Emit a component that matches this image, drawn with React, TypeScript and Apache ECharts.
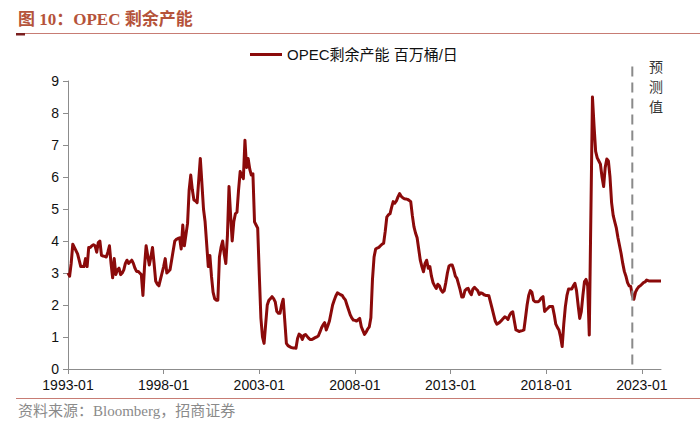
import React, { useEffect, useRef } from "react";
import * as echarts from "echarts";

// OPEC spare capacity, million barrels per day, monthly from 1993-01 to 2024-01
const y1993 = [3.0, 2.9, 3.3, 3.9, 3.8, 3.7, 3.6, 3.4, 3.2, 3.2, 3.2, 3.45];
const y1994 = [3.2, 3.8, 3.8, 3.85, 3.88, 3.85, 3.65, 3.95, 4.0, 3.55, 3.53, 3.52];
const y1995 = [3.5, 3.65, 3.85, 3.3, 2.85, 3.45, 2.95, 3.1, 3.15, 2.95, 3.0, 3.1];
const y1996 = [3.3, 3.4, 3.3, 3.35, 3.4, 3.3, 3.15, 3.05, 3.05, 3.0, 2.95, 2.3];
const y1997 = [3.2, 3.85, 3.55, 3.25, 3.5, 3.8, 3.3, 2.75, 2.65, 2.6, 2.8, 3.0];
const y1998 = [3.2, 3.45, 3.0, 3.05, 3.1, 3.4, 3.7, 4.0, 4.05, 4.08, 4.1, 3.75];
const y1999 = [4.5, 3.85, 4.2, 4.55, 5.6, 6.06, 5.6, 5.28, 5.25, 5.2, 5.9, 6.58];
const y2000 = [5.8, 5.0, 4.6, 3.9, 3.2, 3.55, 2.9, 2.4, 2.2, 2.15, 2.15, 3.5];
const y2001 = [3.8, 4.0, 3.6, 3.3, 4.15, 5.7, 4.8, 4.0, 4.6, 4.85, 4.9, 5.6];
const y2002 = [6.17, 6.05, 5.95, 7.15, 6.3, 6.58, 6.25, 6.06, 6.1, 4.6, 4.5, 4.4];
const y2003 = [2.95, 1.6, 1.0, 0.8, 1.4, 2.0, 2.15, 2.2, 2.26, 2.2, 2.1, 1.8];
const y2004 = [1.74, 1.74, 2.0, 2.18, 1.5, 0.8, 0.73, 0.7, 0.67, 0.66, 0.66, 0.65];
const y2005 = [0.95, 1.09, 1.05, 0.92, 1.05, 1.08, 1.02, 0.96, 0.92, 0.92, 0.95, 0.98];
const y2006 = [1.0, 1.03, 1.15, 1.28, 1.38, 1.45, 1.22, 1.35, 1.5, 1.75, 2.0, 2.15];
const y2007 = [2.28, 2.38, 2.35, 2.32, 2.3, 2.22, 2.16, 2.0, 1.85, 1.7, 1.6, 1.53];
const y2008 = [1.52, 1.5, 1.54, 1.58, 1.32, 1.2, 1.08, 1.15, 1.25, 1.32, 1.6, 2.8];
const y2009 = [3.5, 3.75, 3.78, 3.8, 3.85, 3.9, 3.93, 4.3, 4.75, 4.82, 4.85, 5.05];
const y2010 = [5.23, 5.18, 5.25, 5.38, 5.48, 5.4, 5.35, 5.32, 5.31, 5.3, 5.27, 5.23];
const y2011 = [4.8, 4.45, 4.25, 4.1, 3.75, 3.4, 3.2, 3.04, 3.3, 3.4, 3.15, 3.2];
const y2012 = [2.9, 2.7, 2.6, 2.52, 2.65, 2.6, 2.47, 2.4, 2.45, 2.7, 3.0, 3.22];
const y2013 = [3.25, 3.25, 3.1, 2.9, 2.83, 2.65, 2.47, 2.25, 2.25, 2.45, 2.5, 2.52];
const y2014 = [2.4, 2.32, 2.5, 2.55, 2.5, 2.45, 2.33, 2.38, 2.36, 2.32, 2.3, 2.3];
const y2015 = [2.29, 2.1, 1.9, 1.7, 1.5, 1.4, 1.43, 1.47, 1.52, 1.58, 1.63, 1.6];
const y2016 = [1.55, 1.68, 1.76, 1.79, 1.5, 1.22, 1.2, 1.17, 1.19, 1.2, 1.22, 1.6];
const y2017 = [2.0, 2.3, 2.45, 2.4, 2.15, 2.1, 2.1, 2.1, 2.15, 2.22, 2.26, 1.8];
const y2018 = [1.85, 1.9, 1.95, 1.95, 1.95, 1.7, 1.4, 1.3, 1.22, 1.0, 0.7, 1.4];
const y2019 = [1.95, 2.3, 2.5, 2.5, 2.5, 2.6, 2.68, 2.45, 2.0, 1.58, 1.79, 2.3];
const y2020 = [2.73, 2.8, 2.6, 1.06, 4.8, 8.5, 7.6, 6.8, 6.6, 6.5, 6.4, 6.0];
const y2021 = [5.7, 6.3, 6.56, 6.5, 6.0, 5.2, 4.8, 4.6, 4.4, 4.1, 3.85, 3.6];
const y2022 = [3.3, 3.05, 2.9, 2.7, 2.6, 2.58, 2.3, 2.18, 2.4, 2.5, 2.57, 2.6];
const y2023 = [2.65, 2.7, 2.72, 2.78, 2.76, 2.75, 2.75, 2.75, 2.75, 2.75, 2.75, 2.75];
const y2024 = [2.75];

const spareCapacity = [
  ...y1993, ...y1994, ...y1995, ...y1996, ...y1997, ...y1998, ...y1999, ...y2000,
  ...y2001, ...y2002, ...y2003, ...y2004, ...y2005, ...y2006, ...y2007, ...y2008,
  ...y2009, ...y2010, ...y2011, ...y2012, ...y2013, ...y2014, ...y2015, ...y2016,
  ...y2017, ...y2018, ...y2019, ...y2020, ...y2021, ...y2022, ...y2023, ...y2024,
];

const startYear = 1993;
const months: string[] = [];
for (let i = 0; i < spareCapacity.length; i++) {
  const y = startYear + Math.floor(i / 12);
  const m = (i % 12) + 1;
  months.push(`${y}-${m < 10 ? "0" + m : m}`);
}

const forecastStart = "2022-07";
const seriesName = "OPEC剩余产能 百万桶/日";
const titleText = "图 10：OPEC 剩余产能";
const sourceText = "资料来源：Bloomberg，招商证券";
const forecastLabel = "预\n测\n值";

const LINE_COLOR = "#8B0A0A";
const AXIS_COLOR = "#8c8c8c";
const SANS = "'Liberation Sans', Arial, 'Noto Sans CJK SC', sans-serif";
const SERIF = "'Liberation Serif', 'Times New Roman', 'Noto Sans CJK SC', serif";

export default function App() {
  const ref = useRef<HTMLDivElement>(null);

  useEffect(() => {
    if (!ref.current) return;
    const chart = echarts.init(ref.current, undefined, { renderer: "svg" });

    const baseGraphics: any[] = [
      {
        id: "title",
        type: "text",
        left: 18,
        top: 11,
        style: {
          text: titleText,
          fill: "#B5533A",
          font: `bold 17px ${SERIF}`,
        },
      },
      {
        id: "titleLine",
        type: "line",
        shape: { x1: 16, y1: 33.5, x2: 700, y2: 33.5 },
        style: { stroke: "#C77C74", lineWidth: 1 },
      },
      {
        id: "titleMark",
        type: "rect",
        shape: { x: 16, y: 33, width: 9, height: 2.5 },
        style: { fill: "#7A1F1F" },
      },
      {
        id: "sourceLine",
        type: "line",
        shape: { x1: 16, y1: 398.5, x2: 700, y2: 398.5 },
        style: { stroke: "#C77C74", lineWidth: 1 },
      },
      {
        id: "source",
        type: "text",
        left: 18,
        top: 403,
        style: {
          text: sourceText,
          fill: "#8a8a8a",
          font: `15px ${SERIF}`,
        },
      },
      {
        id: "forecastText",
        type: "text",
        x: 656,
        y: 56,
        style: {
          text: forecastLabel,
          fill: "#333",
          font: `14px 'Noto Sans CJK SC', sans-serif`,
          lineHeight: 20,
          align: "center",
          verticalAlign: "top",
        },
      },
    ];

    chart.setOption({
      animation: false,
      backgroundColor: "#fff",
      grid: { left: 68, right: 39, top: 81, bottom: 56, containLabel: false },
      legend: {
        data: [seriesName],
        left: 250,
        top: 47,
        padding: 0,
        icon: "rect",
        itemWidth: 32,
        itemHeight: 3,
        itemGap: 5,
        textStyle: { fontFamily: SANS, fontSize: 15, color: "#111" },
      },
      xAxis: {
        type: "category",
        data: months,
        boundaryGap: false,
        axisLine: { lineStyle: { color: AXIS_COLOR, width: 1 } },
        axisTick: {
          show: true,
          interval: 59,
          length: 5,
          lineStyle: { color: AXIS_COLOR },
        },
        axisLabel: {
          interval: 59,
          color: "#111",
          fontFamily: SANS,
          fontSize: 14,
          margin: 9,
        },
        splitLine: { show: false },
      },
      yAxis: {
        type: "value",
        min: 0,
        max: 9,
        interval: 1,
        axisLine: { show: true, lineStyle: { color: AXIS_COLOR, width: 1 } },
        axisTick: { show: true, length: 5, lineStyle: { color: AXIS_COLOR } },
        axisLabel: { color: "#111", fontFamily: SANS, fontSize: 14, margin: 9 },
        splitLine: { show: false },
      },
      series: [
        {
          name: seriesName,
          type: "line",
          data: spareCapacity,
          showSymbol: false,
          symbol: "none",
          lineStyle: { color: LINE_COLOR, width: 3, join: "round" },
          itemStyle: { color: LINE_COLOR },
        },
      ],
      graphic: { elements: baseGraphics },
    });

    const fx = chart.convertToPixel({ xAxisIndex: 0 }, forecastStart) as number;
    const yTop = chart.convertToPixel({ yAxisIndex: 0 }, 9.45) as number;
    const yBottom = chart.convertToPixel({ yAxisIndex: 0 }, 0) as number;

    chart.setOption({
      graphic: {
        elements: [
          ...baseGraphics,
          {
            id: "forecastLine",
            type: "line",
            shape: { x1: fx, y1: yTop, x2: fx, y2: yBottom },
            style: { stroke: "#8a8a8a", lineWidth: 2, lineDash: [10, 6] },
            z: 10,
          },
        ],
      },
    });

    return () => chart.dispose();
  }, []);

  return (
    <div
      ref={ref}
      style={{ position: "absolute", left: 0, top: 0, width: 700, height: 425 }}
    />
  );
}
